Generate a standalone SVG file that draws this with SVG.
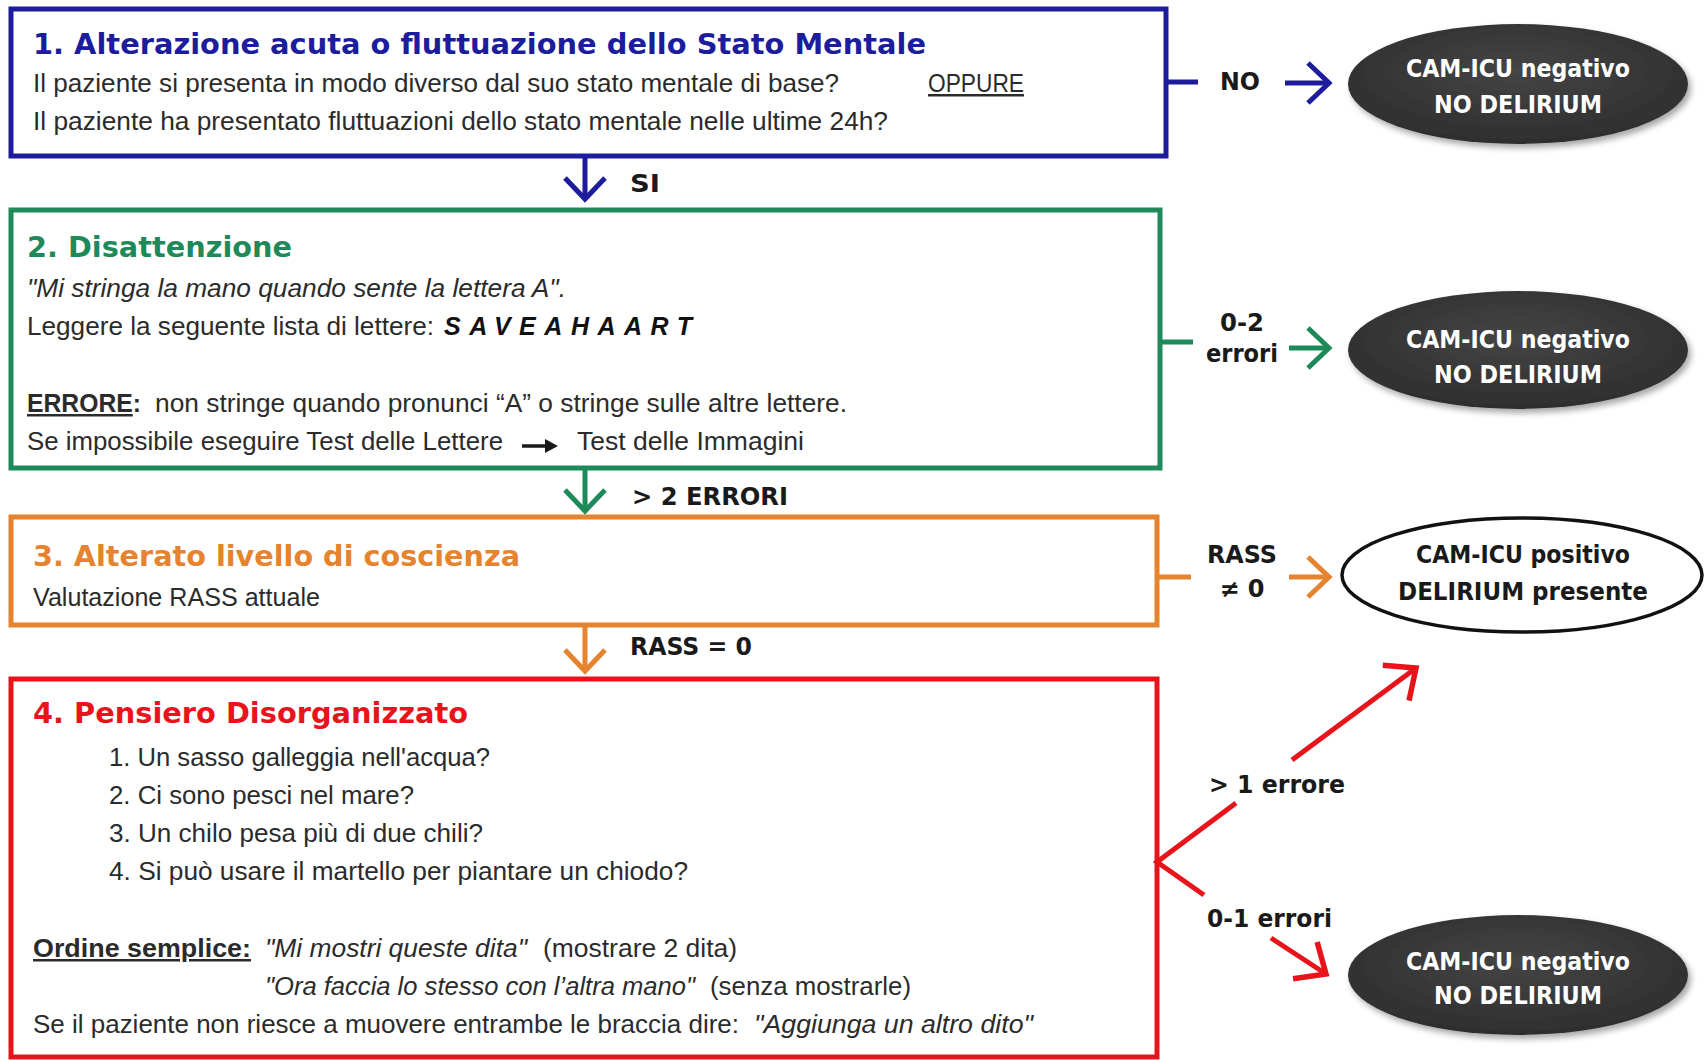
<svg xmlns="http://www.w3.org/2000/svg" width="1708" height="1060" viewBox="0 0 1708 1060">
<style>
  text { font-family: "DejaVu Sans", "Liberation Sans", sans-serif; fill: #2b2b2b; }
  .title { font-size: 29px; font-weight: bold; }
  .body { font-family: "Liberation Sans", Arial, sans-serif; font-size: 25px; }
  .it { font-style: italic; }
  .b { font-weight: bold; }
  .u { text-decoration: underline; }
  .lbl { font-size: 24px; font-weight: bold; fill: #1a1a1a; }
  .ell { font-size: 24px; font-weight: bold; fill: #ffffff; text-anchor: middle; }
  .ellp { font-size: 24px; font-weight: bold; fill: #1a1a1a; text-anchor: middle; }
  .box { fill: #ffffff; stroke-width: 5; }
  .dark { fill: url(#darkGrad); filter: url(#shadow); }
  .con { fill: none; stroke-width: 5; stroke-linecap: butt; }
  .blue { stroke: #1c1c9c; }
  .green { stroke: #1e8a5a; }
  .orange { stroke: #e6832e; }
  .red { stroke: #e8141c; }
</style>
<defs>
  <radialGradient id="darkGrad" cx="50%" cy="40%" r="60%">
    <stop offset="0" stop-color="#454545"/>
    <stop offset="1" stop-color="#2e2e2e"/>
  </radialGradient>
  <filter id="shadow" x="-10%" y="-20%" width="125%" height="150%">
    <feDropShadow dx="3" dy="4" stdDeviation="3" flood-color="#000" flood-opacity="0.35"/>
  </filter>
  <marker id="ah-blue" markerUnits="userSpaceOnUse" viewBox="-30 -26 34 52" markerWidth="34" markerHeight="52" refX="0" refY="0" orient="auto" overflow="visible">
    <path d="M-21,-20 L0,0 L-21,20" fill="none" stroke="#1c1c9c" stroke-width="5"/>
  </marker>
  <marker id="ah-green" markerUnits="userSpaceOnUse" viewBox="-30 -26 34 52" markerWidth="34" markerHeight="52" refX="0" refY="0" orient="auto" overflow="visible">
    <path d="M-21,-20 L0,0 L-21,20" fill="none" stroke="#1e8a5a" stroke-width="5"/>
  </marker>
  <marker id="ah-orange" markerUnits="userSpaceOnUse" viewBox="-30 -26 34 52" markerWidth="34" markerHeight="52" refX="0" refY="0" orient="auto" overflow="visible">
    <path d="M-21,-20 L0,0 L-21,20" fill="none" stroke="#e6832e" stroke-width="5"/>
  </marker>
  <marker id="ah-red" markerUnits="userSpaceOnUse" viewBox="-34 -30 38 60" markerWidth="38" markerHeight="60" refX="0" refY="0" orient="auto" overflow="visible">
    <path d="M-25,-22 L0,0 L-25,22" fill="none" stroke="#e8141c" stroke-width="5.5"/>
  </marker>
</defs>
<rect width="1708" height="1060" fill="#ffffff"/>

<g id="box1">
  <rect class="box blue" x="11" y="9" width="1155" height="147"/>
  <text class="title" x="33" y="54" style="fill:#1c1c9c" textLength="893" lengthAdjust="spacingAndGlyphs">1. Alterazione acuta o fluttuazione dello Stato Mentale</text>
  <text class="body" x="33" y="92" textLength="806" lengthAdjust="spacingAndGlyphs">Il paziente si presenta in modo diverso dal suo stato mentale di base?</text>
  <text class="body u" x="928" y="92" textLength="96" lengthAdjust="spacingAndGlyphs">OPPURE</text>
  <text class="body" x="33" y="130" textLength="855" lengthAdjust="spacingAndGlyphs">Il paziente ha presentato fluttuazioni dello stato mentale nelle ultime 24h?</text>
</g>

<g id="box2">
  <rect class="box green" x="11" y="210" width="1149" height="258"/>
  <text class="title" x="27" y="257" style="fill:#1e8a5a" textLength="265" lengthAdjust="spacingAndGlyphs">2. Disattenzione</text>
  <text class="body it" x="27" y="297" textLength="539" lengthAdjust="spacingAndGlyphs">"Mi stringa la mano quando sente la lettera A".</text>
  <text class="body" y="335"><tspan x="27" textLength="407" lengthAdjust="spacingAndGlyphs">Leggere la seguente lista di lettere:</tspan><tspan class="b it" x="444" style="fill:#111" textLength="248" lengthAdjust="spacing">SAVEAHAART</tspan></text>
  <text class="body" y="412"><tspan class="b" x="27" textLength="114" lengthAdjust="spacingAndGlyphs"><tspan class="u">ERRORE</tspan>:</tspan><tspan x="155" textLength="692" lengthAdjust="spacingAndGlyphs">non stringe quando pronunci “A” o stringe sulle altre lettere.</tspan></text>
  <text class="body" y="450"><tspan x="27" textLength="476" lengthAdjust="spacingAndGlyphs">Se impossibile eseguire Test delle Lettere</tspan><tspan x="577" textLength="227" lengthAdjust="spacingAndGlyphs">Test delle Immagini</tspan></text>
  <path d="M522,446 L548,446" stroke="#1a1a1a" stroke-width="3.5" fill="none"/>
  <path d="M545,439 L558,446 L545,453 Z" fill="#1a1a1a"/>
</g>

<g id="box3">
  <rect class="box orange" x="11" y="517" width="1146" height="108"/>
  <text class="title" x="33" y="566" style="fill:#e6832e" textLength="487" lengthAdjust="spacingAndGlyphs">3. Alterato livello di coscienza</text>
  <text class="body" x="33" y="606" textLength="287" lengthAdjust="spacingAndGlyphs">Valutazione RASS attuale</text>
</g>

<g id="box4">
  <rect class="box red" x="11" y="679" width="1146" height="378"/>
  <text class="title" x="33" y="723" style="fill:#e8141c" textLength="435" lengthAdjust="spacingAndGlyphs">4. Pensiero Disorganizzato</text>
  <text class="body" x="109" y="766" textLength="381" lengthAdjust="spacingAndGlyphs">1. Un sasso galleggia nell'acqua?</text>
  <text class="body" x="109" y="804" textLength="305" lengthAdjust="spacingAndGlyphs">2. Ci sono pesci nel mare?</text>
  <text class="body" x="109" y="842" textLength="374" lengthAdjust="spacingAndGlyphs">3. Un chilo pesa più di due chili?</text>
  <text class="body" x="109" y="880" textLength="579" lengthAdjust="spacingAndGlyphs">4. Si può usare il martello per piantare un chiodo?</text>
  <text class="body" y="957"><tspan class="b u" x="33" textLength="218" lengthAdjust="spacingAndGlyphs">Ordine semplice:</tspan><tspan class="it" x="265" textLength="262" lengthAdjust="spacingAndGlyphs">"Mi mostri queste dita"</tspan><tspan x="543" textLength="194" lengthAdjust="spacingAndGlyphs">(mostrare 2 dita)</tspan></text>
  <text class="body" y="995"><tspan class="it" x="265" textLength="430" lengthAdjust="spacingAndGlyphs">"Ora faccia lo stesso con l’altra mano"</tspan><tspan x="710" textLength="201" lengthAdjust="spacingAndGlyphs">(senza mostrarle)</tspan></text>
  <text class="body" y="1033"><tspan x="33" textLength="706" lengthAdjust="spacingAndGlyphs">Se il paziente non riesce a muovere entrambe le braccia dire:</tspan><tspan class="it" x="754" textLength="279" lengthAdjust="spacingAndGlyphs">"Aggiunga un altro dito"</tspan></text>
</g>

<g id="end1">
  <ellipse class="dark" cx="1518" cy="84" rx="170" ry="60"/>
  <text class="ell" x="1518" y="77" textLength="224" lengthAdjust="spacingAndGlyphs">CAM-ICU negativo</text>
  <text class="ell" x="1518" y="113" textLength="168" lengthAdjust="spacingAndGlyphs">NO DELIRIUM</text>
</g>

<g id="end2">
  <ellipse class="dark" cx="1518" cy="350" rx="170" ry="59"/>
  <text class="ell" x="1518" y="348" textLength="224" lengthAdjust="spacingAndGlyphs">CAM-ICU negativo</text>
  <text class="ell" x="1518" y="383" textLength="168" lengthAdjust="spacingAndGlyphs">NO DELIRIUM</text>
</g>

<g id="end3">
  <ellipse cx="1522" cy="575" rx="180" ry="57" fill="#ffffff" stroke="#111111" stroke-width="3.5"/>
  <text class="ellp" x="1523" y="563" textLength="214" lengthAdjust="spacingAndGlyphs">CAM-ICU positivo</text>
  <text class="ellp" x="1523" y="600" textLength="250" lengthAdjust="spacingAndGlyphs">DELIRIUM presente</text>
</g>

<g id="end4">
  <ellipse class="dark" cx="1518" cy="975" rx="170" ry="60"/>
  <text class="ell" x="1518" y="970" textLength="224" lengthAdjust="spacingAndGlyphs">CAM-ICU negativo</text>
  <text class="ell" x="1518" y="1004" textLength="168" lengthAdjust="spacingAndGlyphs">NO DELIRIUM</text>
</g>

<g id="connectors">
  <line class="con blue" x1="1166" y1="82" x2="1198" y2="82"/>
  <line class="con blue" x1="1285" y1="83" x2="1329" y2="83" marker-end="url(#ah-blue)"/>
  <text class="lbl" x="1220" y="90" textLength="40" lengthAdjust="spacingAndGlyphs">NO</text>
  <line class="con blue" x1="585" y1="156" x2="585" y2="199" marker-end="url(#ah-blue)"/>
  <text class="lbl" x="630" y="192" textLength="30" lengthAdjust="spacingAndGlyphs">SI</text>
  <line class="con green" x1="1160" y1="342" x2="1193" y2="342"/>
  <line class="con green" x1="1289" y1="348" x2="1329" y2="348" marker-end="url(#ah-green)"/>
  <text class="lbl" x="1242" y="331" text-anchor="middle" textLength="44" lengthAdjust="spacingAndGlyphs">0-2</text>
  <text class="lbl" x="1242" y="362" text-anchor="middle" textLength="72" lengthAdjust="spacingAndGlyphs">errori</text>
  <line class="con green" x1="585" y1="468" x2="585" y2="511" marker-end="url(#ah-green)"/>
  <text class="lbl" x="632" y="505" textLength="156" lengthAdjust="spacingAndGlyphs">&gt; 2 ERRORI</text>
  <line class="con orange" x1="1157" y1="577" x2="1191" y2="577"/>
  <line class="con orange" x1="1289" y1="577" x2="1329" y2="577" marker-end="url(#ah-orange)"/>
  <text class="lbl" x="1242" y="563" text-anchor="middle" textLength="70" lengthAdjust="spacingAndGlyphs">RASS</text>
  <text class="lbl" x="1242" y="597" text-anchor="middle">≠ 0</text>
  <line class="con orange" x1="585" y1="625" x2="585" y2="671" marker-end="url(#ah-orange)"/>
  <text class="lbl" x="630" y="655" textLength="122" lengthAdjust="spacingAndGlyphs">RASS = 0</text>
  <polyline class="con red" points="1236,803 1157,862 1204,895"/>
  <line class="con red" x1="1292" y1="760" x2="1416" y2="668" marker-end="url(#ah-red)"/>
  <text class="lbl" x="1209" y="793" textLength="136" lengthAdjust="spacingAndGlyphs">&gt; 1 errore</text>
  <line class="con red" x1="1271" y1="938" x2="1326" y2="974" marker-end="url(#ah-red)"/>
  <text class="lbl" x="1207" y="927" textLength="125" lengthAdjust="spacingAndGlyphs">0-1 errori</text>
</g>
</svg>
